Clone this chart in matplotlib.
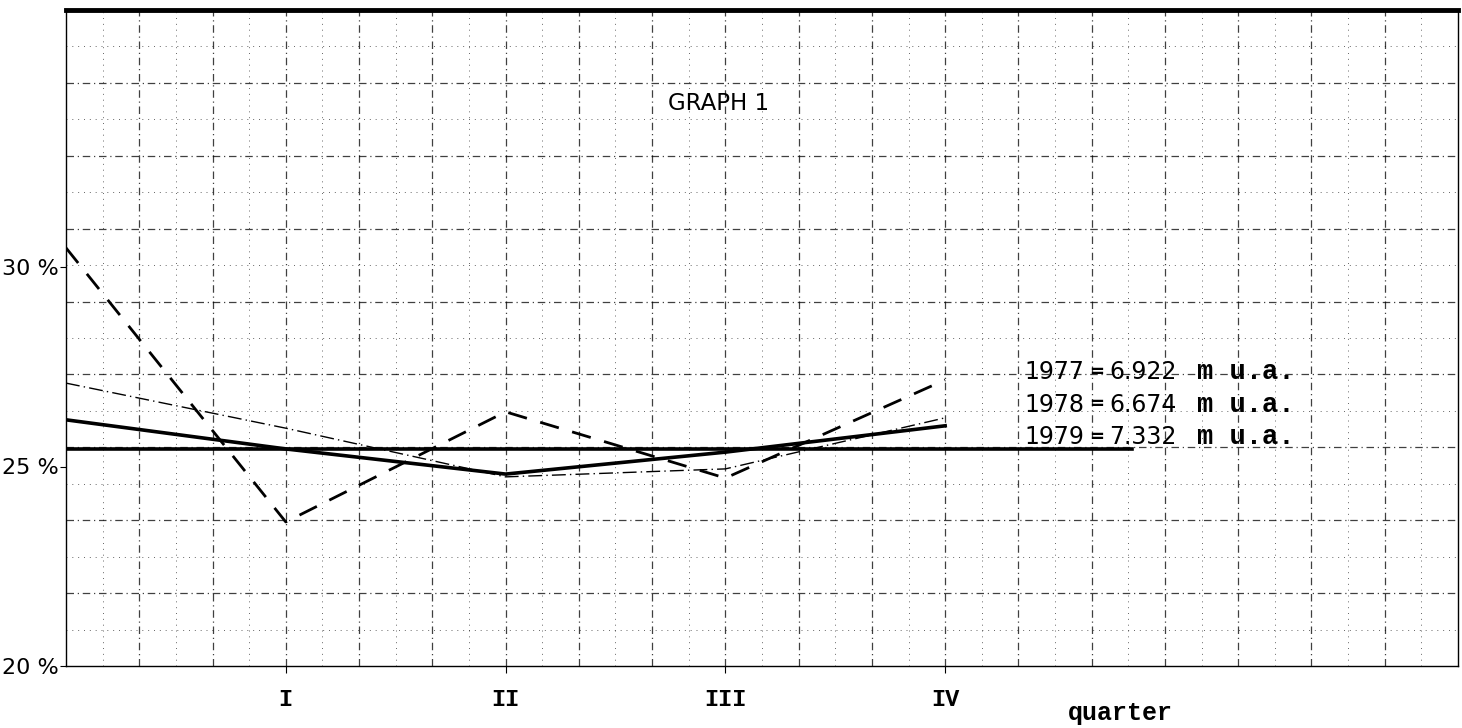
import matplotlib
matplotlib.use("Agg")
import matplotlib.pyplot as plt
from matplotlib import font_manager

# x = quarter position (0 = start of year, 1..4 = I..IV)
quarters = [0, 1, 2, 3, 4]
quarter_labels = ["I", "II", "III", "IV"]

# share in %
y_1977 = [30.48, 23.61, 26.37, 24.71, 27.17]   # dashed
y_1978 = [27.09, 25.96, 24.74, 24.94, 26.22]   # thin dash-dot
y_1979 = [26.17, 25.44, 24.81, 25.36, 26.02]   # thick solid
ref_x = [0, 4.85]
ref_y = [25.44, 25.44]                          # flat thick line

years = ["1977", "1978", "1979"]
amounts = ["6.922", "6.674", "7.332"]
ytick_vals = [20, 25, 30]
ytick_labels = ["20 %", "25 %", "30 %"]

names = {f.name for f in font_manager.fontManager.ttflist}
narrow = "DejaVu Sans"
for cand in ["DejaVu Sans Condensed", "Liberation Sans Narrow"]:
    if cand in names:
        narrow = cand
        break
mono = "Liberation Mono"

fig = plt.figure(figsize=(14.62, 7.28), dpi=100)
ax = fig.add_axes([66 / 1462, 62 / 728, 1392 / 1462, 656 / 728])

xmax = 19 / 3
ymin, ymax = 20, 20 + 656 / 39.9
ax.set_xlim(0, xmax)
ax.set_ylim(ymin, ymax)

# graph paper
ncol, nrow = 19, 9
for i in range(1, ncol):
    x = i / ncol * xmax
    ax.axvline(x, color="black", lw=0.9, ls=(0, (6, 3, 1, 3)), alpha=0.75, zorder=1)
for i in range(ncol):
    x = (i + 0.5) / ncol * xmax
    ax.axvline(x, color="black", lw=0.7, ls=(0, (1, 5)), alpha=0.6, zorder=1)
for j in range(1, nrow):
    y = ymin + j / nrow * (ymax - ymin)
    ax.axhline(y, color="black", lw=0.9, ls=(0, (6, 3, 1, 3)), alpha=0.75, zorder=1)
for j in range(nrow):
    y = ymin + (j + 0.5) / nrow * (ymax - ymin)
    ax.axhline(y, color="black", lw=0.7, ls=(0, (1, 5)), alpha=0.6, zorder=1)

# data lines
ax.plot(quarters, y_1977, color="black", lw=2.0, ls=(0, (7, 5)), zorder=3)
ax.plot(quarters, y_1978, color="black", lw=1.0, ls=(0, (10, 3, 1, 3)), zorder=3)
ax.plot(quarters, y_1979, color="black", lw=2.6, zorder=4)
ax.plot(ref_x, ref_y, color="black", lw=2.6, zorder=4)

for s in ["left", "right", "bottom"]:
    ax.spines[s].set_linewidth(1.0)
ax.spines["top"].set_linewidth(3.5)

ax.set_xticks([1, 2, 3, 4])
ax.set_xticklabels(quarter_labels, fontfamily=mono, fontweight="bold", fontsize=17)
ax.tick_params(axis="x", length=5, pad=11)
ax.set_yticks(ytick_vals)
ax.set_yticklabels(ytick_labels, fontsize=16, fontfamily=narrow)
ax.tick_params(axis="y", length=4, pad=1)

ax.text((1068 - 66) / 1392, -54 / 656, "quarter", transform=ax.transAxes, ha="left",
        va="baseline", fontfamily=mono, fontweight="bold", fontsize=18)

ax.text((668 - 66) / 1392, (666 - 103) / 656, "GRAPH 1", transform=ax.transAxes,
        fontsize=16.5, ha="left", va="center")

for k in range(3):
    yf = (666 - (372 + k * 32.5)) / 656
    ax.text((1024 - 66) / 1392, yf, years[k], transform=ax.transAxes, fontsize=17,
            fontfamily=narrow, ha="left", va="center", zorder=5)
    ax.text((1097 - 66) / 1392, yf, "=", transform=ax.transAxes, fontsize=13,
            fontweight="bold", ha="center", va="center", zorder=5)
    ax.text((1109 - 66) / 1392, yf, amounts[k], transform=ax.transAxes, fontsize=17,
            fontfamily=narrow, ha="left", va="center", zorder=5)
    ax.text((1197 - 66) / 1392, yf, "m u.a.", transform=ax.transAxes, fontsize=19.5,
            fontfamily=mono, fontweight="bold", ha="left", va="center", zorder=5)

fig.savefig("out.png", dpi=100)
